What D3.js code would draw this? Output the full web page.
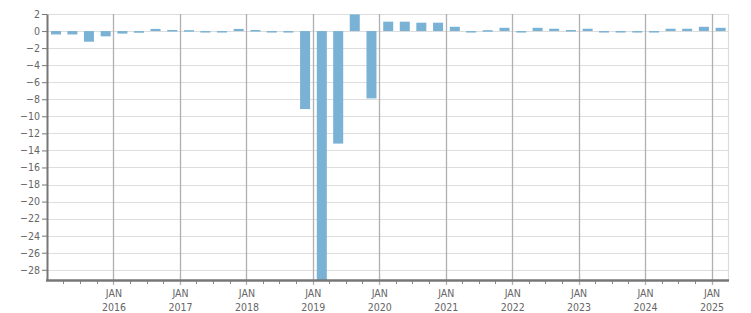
<!DOCTYPE html>
<html>
<head>
<meta charset="utf-8">
<script src="https://cdn.jsdelivr.net/npm/d3@7"></script>
<style>
    body { margin: 0; background: #fff; }
    svg text { font-family: "DejaVu Sans Condensed", "DejaVu Sans", sans-serif; font-size: 10.5px; fill: #666; }
</style>
</head>
<body>
<div id="chart"></div>
<script>
// quarterly series, 2015 Q1 .. 2025 Q1
const quarters = d3.timeMonths(new Date(2015, 0, 1), new Date(2025, 1, 1), 3);
const values = [
    -0.4, -0.4, -1.25, -0.62,
    -0.3, -0.2, 0.25, 0.12,
    0.1, -0.05, -0.05, 0.25,
    0.12, -0.05, -0.05, -9.15,
    -29.2, -13.2, 1.95, -7.9,
    1.1, 1.1, 0.98, 0.98,
    0.5, -0.05, 0.1, 0.38,
    -0.05, 0.38, 0.27, 0.12,
    0.27, -0.05, -0.05, -0.05,
    -0.05, 0.27, 0.27, 0.5,
    0.38
];
const yTicks = d3.range(2, -29, -2);
const yearTicks = d3.timeYears(new Date(2016, 0, 1), new Date(2025, 1, 1));

const data = quarters.map((d, i) => ({ date: d, value: values[i] }));

const width = 751;
const height = 313;
const margin = { top: 14, right: 23, bottom: 33, left: 47 };

const svg = d3.select('#chart')
    .append('svg')
    .attr('width', width)
    .attr('height', height);

const x = d3.scaleTime()
    .domain([new Date(2015, 0, 1), new Date(2025, 3, 1)])
    .range([margin.left, width - margin.right]);

const y = d3.scaleLinear()
    .domain([d3.min(values), 2])
    .range([height - margin.bottom, margin.top]);

// horizontal grid
svg.append('g')
    .selectAll('line')
    .data(yTicks)
    .join('line')
    .attr('x1', margin.left)
    .attr('x2', width - margin.right)
    .attr('y1', d => Math.round(y(d)) + 0.5)
    .attr('y2', d => Math.round(y(d)) + 0.5)
    .attr('stroke', '#dddddd')
    .attr('stroke-width', 1.2);

// right border
svg.append('line')
    .attr('x1', width - margin.right + 0.5)
    .attr('x2', width - margin.right + 0.5)
    .attr('y1', margin.top)
    .attr('y2', height - margin.bottom)
    .attr('stroke', '#dddddd')
    .attr('stroke-width', 1.2);

// year grid lines (extend a little below the axis as ticks)
svg.append('g')
    .selectAll('line')
    .data(yearTicks)
    .join('line')
    .attr('x1', d => Math.round(x(d)) + 0.5)
    .attr('x2', d => Math.round(x(d)) + 0.5)
    .attr('y1', margin.top)
    .attr('y2', height - margin.bottom + 5)
    .attr('stroke', '#b0b0b0')
    .attr('stroke-width', 1.3);

// bars
svg.append('defs').append('clipPath')
    .attr('id', 'plot-clip')
    .append('rect')
    .attr('x', margin.left)
    .attr('y', margin.top)
    .attr('width', width - margin.left - margin.right)
    .attr('height', height - margin.top - margin.bottom);

svg.append('g')
    .attr('clip-path', 'url(#plot-clip)')
    .selectAll('rect')
    .data(data)
    .join('rect')
    .attr('x', d => x(d3.timeDay.offset(d.date, 22)))
    .attr('width', d => x(d3.timeDay.offset(d.date, 77)) - x(d3.timeDay.offset(d.date, 22)))
    .attr('y', d => Math.min(y(d.value), y(0)))
    .attr('height', d => Math.max(Math.abs(y(d.value) - y(0)), 1.5))
    .attr('fill', '#79b2d4');

// quarter minor ticks
const minorTicks = d3.timeMonths(new Date(2015, 3, 1), new Date(2025, 3, 1), 3)
    .filter(d => d.getMonth() !== 0);
svg.append('g')
    .selectAll('line')
    .data(minorTicks)
    .join('line')
    .attr('x1', d => Math.round(x(d)) + 0.5)
    .attr('x2', d => Math.round(x(d)) + 0.5)
    .attr('y1', height - margin.bottom)
    .attr('y2', height - margin.bottom + 4)
    .attr('stroke', '#888')
    .attr('stroke-width', 1);

// y axis
const yAxis = svg.append('g')
    .attr('transform', `translate(${margin.left},0)`)
    .call(d3.axisLeft(y).tickValues(yTicks).tickSize(5).tickSizeOuter(0).tickPadding(2));
yAxis.select('.domain').attr('stroke', '#777').attr('stroke-width', 2);
yAxis.selectAll('.tick line').attr('stroke', '#777');
yAxis.selectAll('.tick text').attr('fill', '#666');

// x axis line
svg.append('line')
    .attr('x1', margin.left - 1)
    .attr('x2', width - margin.right + 1)
    .attr('y1', height - margin.bottom + 0.5)
    .attr('y2', height - margin.bottom + 0.5)
    .attr('stroke', '#777')
    .attr('stroke-width', 2.5);

// x labels
const xLabels = svg.append('g')
    .selectAll('text')
    .data(yearTicks)
    .join('text')
    .attr('x', d => x(d) + 0.5)
    .attr('y', height - margin.bottom + 17)
    .attr('text-anchor', 'middle');
xLabels.append('tspan').text('JAN');
xLabels.append('tspan')
    .attr('x', d => x(d) + 0.5)
    .attr('dy', 14)
    .text(d => d3.timeFormat('%Y')(d));
</script>
</body>
</html>
